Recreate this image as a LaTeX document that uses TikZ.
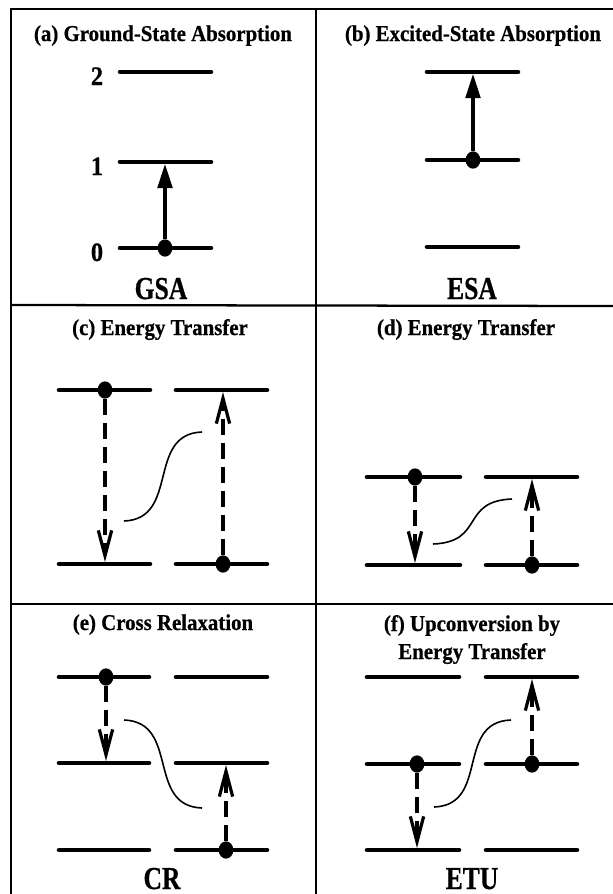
\documentclass[tikz,border=0pt]{standalone}
\usepackage{fontspec}
\newfontfamily\ttlfont[FakeStretch=0.92,FakeBold=0.6]{Liberation Serif}
\newfontfamily\labfont[FakeStretch=0.8,FakeBold=0.6]{Liberation Serif}
\usetikzlibrary{arrows.meta,calc,shapes.geometric}
\tikzset{
  levelline/.style={line width=3.4pt, line cap=round},
  frameline/.style={line width=1.7pt},
  pump/.style={line width=2.4pt, -{Triangle[length=18pt,width=11pt]}},
  transfer/.style={line width=2.6pt, dash pattern=on 12pt off 6pt, -{Straight Barb[length=19pt,width=10pt,line width=2.4pt]}},
  link/.style={line width=1.2pt},
  dotmark/.style={ellipse, fill=black, inner sep=0pt, minimum width=11pt, minimum height=13pt},
  ttl/.style={anchor=base, font=\ttlfont\bfseries\fontsize{17}{20}\selectfont, inner sep=0pt},
  lvlnum/.style={anchor=base, font=\ttlfont\bfseries\fontsize{20}{22}\selectfont, inner sep=0pt},
  lab/.style={anchor=base, font=\labfont\bfseries\fontsize{24}{26}\selectfont, inner sep=0pt}
}
\begin{document}
\begin{tikzpicture}[x=0.75pt,y=-0.75pt]
\useasboundingbox (0,0) rectangle (613,894);
% frame
\coordinate (TL) at (11,9); \coordinate (TR) at (613,9); \coordinate (BL) at (11,894);
\coordinate (MT) at (316,9); \coordinate (MB) at (316,894);
\coordinate (H1L) at (11,305); \coordinate (H1R) at (613,306);
\coordinate (H2L) at (11,604); \coordinate (H2R) at (613,604);
\draw[frameline] (BL) -- (TL) -- (TR);
\draw[frameline] (MT) -- (MB);
\draw[frameline] (H1L) -- (H1R);
\draw[frameline] (H2L) -- (H2R);

% ---------- (a) GSA
\node[ttl] (ta) at (163,41) {(a) Ground-State Absorption};
\draw[levelline] (120,72) coordinate (a2L) -- (211,72) coordinate (a2R);
\draw[levelline] (120,162) coordinate (a1L) -- (211,162) coordinate (a1R);
\draw[levelline] (120,248) coordinate (a0L) -- (211,248) coordinate (a0R);
\node[lvlnum] (n2) at (97,85) {2};
\node[lvlnum] (n1) at (97,175) {1};
\node[lvlnum] (n0) at (97,261) {0};
\node[dotmark] (aD) at (165,248) {};
\coordinate (aT) at (165,164);
\draw[pump] (aD) -- (aT);
\node[lab] (gsa) at (161,299) {GSA};

% ---------- (b) ESA
\node[ttl] (tb) at (473,41) {(b) Excited-State Absorption};
\draw[levelline] (427,72) coordinate (b2L) -- (518,72) coordinate (b2R);
\draw[levelline] (427,160) coordinate (b1L) -- (518,160) coordinate (b1R);
\draw[levelline] (427,247) coordinate (b0L) -- (518,247) coordinate (b0R);
\node[dotmark] (bD) at (473,160) {};
\coordinate (bT) at (473,74);
\draw[pump] (bD) -- (bT);
\node[lab] (esa) at (472,299) {ESA};

% ---------- (c) Energy Transfer
\node[ttl] (tc) at (160,335) {(c) Energy Transfer};
\draw[levelline] (59,390) -- (150,390);
\draw[levelline] (176,390) -- (267,390);
\draw[levelline] (59,564) -- (150,564);
\draw[levelline] (176,564) -- (267,564);
\node[dotmark] (cD1) at (105,390) {};
\node[dotmark] (cD2) at (223,564) {};
\coordinate (cT1) at (105,562);
\coordinate (cT2) at (223,392);
\draw[transfer] (cD1) -- (cT1);
\draw[transfer] (cD2) -- (cT2);
\coordinate (cS) at (124,521); \coordinate (cE) at (202,432);
\draw[link] (cS) .. controls ($(cS)+(56,-2)$) and ($(cE)+(-56,2)$) .. (cE);

% ---------- (d) Energy Transfer
\node[ttl] (td) at (466,335) {(d) Energy Transfer};
\draw[levelline] (367,477) -- (460,477);
\draw[levelline] (486,477) -- (577,477);
\draw[levelline] (367,565) -- (460,565);
\draw[levelline] (486,565) -- (577,565);
\node[dotmark] (dD1) at (415,477) {};
\node[dotmark] (dD2) at (532,565) {};
\coordinate (dT1) at (415,563);
\coordinate (dT2) at (532,479);
\draw[transfer] (dD1) -- (dT1);
\draw[transfer] (dD2) -- (dT2);
\coordinate (dS) at (433,544); \coordinate (dE) at (512,499);
\draw[link] (dS) .. controls ($(dS)+(52,-2)$) and ($(dE)+(-52,2)$) .. (dE);

% ---------- (e) Cross Relaxation
\node[ttl] (te) at (163,630) {(e) Cross Relaxation};
\draw[levelline] (59,677) -- (149,677);
\draw[levelline] (176,677) -- (267,677);
\draw[levelline] (59,763) -- (149,763);
\draw[levelline] (176,763) -- (267,763);
\draw[levelline] (59,850) -- (149,850);
\draw[levelline] (176,850) -- (267,850);
\node[dotmark] (eD1) at (106,677) {};
\node[dotmark] (eD2) at (226,850) {};
\coordinate (eT1) at (106,761);
\coordinate (eT2) at (226,765);
\draw[transfer] (eD1) -- (eT1);
\draw[transfer] (eD2) -- (eT2);
\coordinate (eS) at (124,720); \coordinate (eE) at (202,808);
\draw[link] (eS) .. controls ($(eS)+(56,2)$) and ($(eE)+(-56,-2)$) .. (eE);
\node[lab] (cr) at (162,889) {CR};

% ---------- (f) ETU
\node[ttl] (tf1) at (472,631) {(f) Upconversion by};
\node[ttl] (tf2) at (472,659) {Energy Transfer};
\draw[levelline] (367,677) -- (459,677);
\draw[levelline] (486,677) -- (577,677);
\draw[levelline] (367,764) -- (459,764);
\draw[levelline] (486,764) -- (577,764);
\draw[levelline] (367,850) -- (459,850);
\draw[levelline] (486,850) -- (577,850);
\node[dotmark] (fD1) at (417,764) {};
\node[dotmark] (fD2) at (532,764) {};
\coordinate (fT1) at (417,848);
\coordinate (fT2) at (532,679);
\draw[transfer] (fD1) -- (fT1);
\draw[transfer] (fD2) -- (fT2);
\coordinate (fS) at (434,807); \coordinate (fE) at (511,720);
\draw[link] (fS) .. controls ($(fS)+(56,-2)$) and ($(fE)+(-56,2)$) .. (fE);
\node[lab] (etu) at (472,889) {ETU};
\end{tikzpicture}
\end{document}
